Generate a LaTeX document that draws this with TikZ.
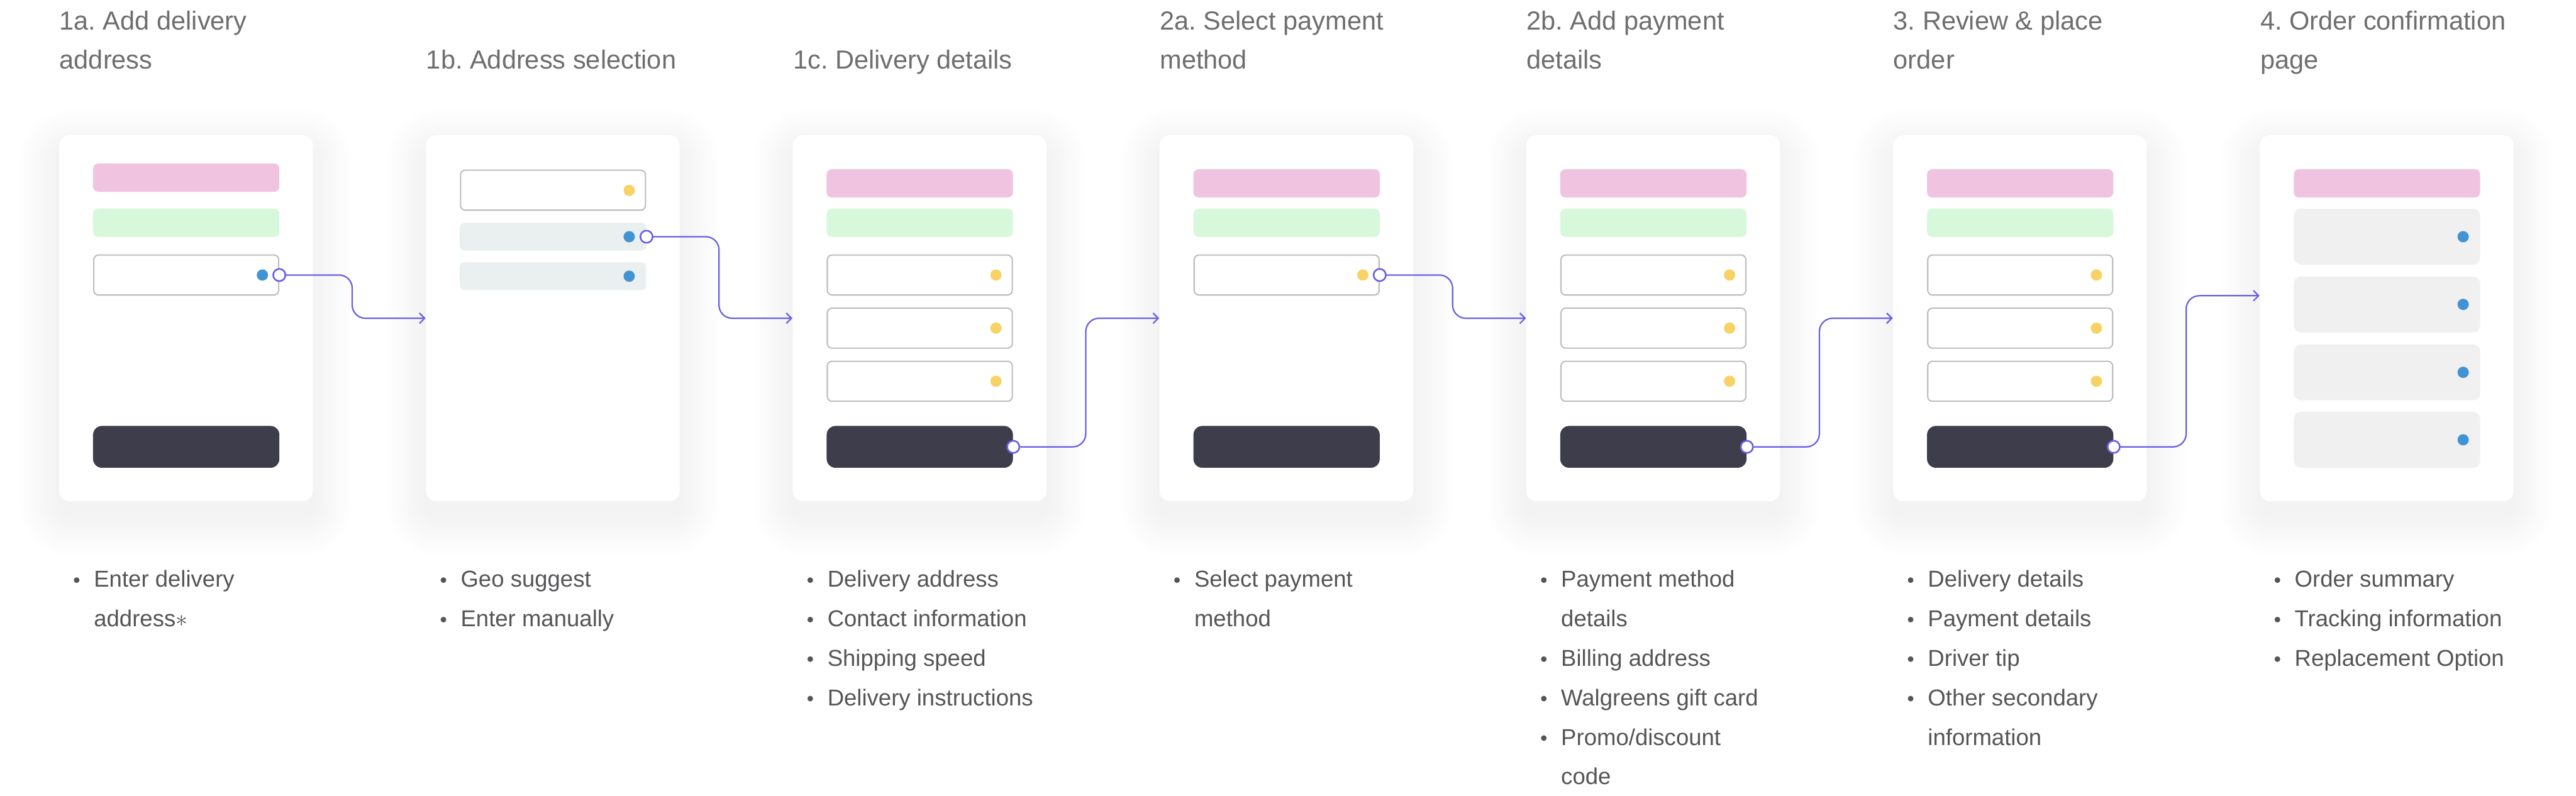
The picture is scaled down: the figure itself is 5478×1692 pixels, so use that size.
\documentclass[tikz,border=0pt]{standalone}
\usepackage{fontspec}
\setmainfont{Liberation Sans}
\usetikzlibrary{arrows.meta}
\definecolor{pinkc}{HTML}{F0C3E0}
\definecolor{greenc}{HTML}{D7F8DB}
\definecolor{fieldgray}{HTML}{BEBEBE}
\definecolor{ydotc}{HTML}{F9D266}
\definecolor{bdotc}{HTML}{4293D3}
\definecolor{btnc}{HTML}{3E3D4B}
\definecolor{rowblue}{HTML}{EAF0EF}
\definecolor{rowgray}{HTML}{F0F0F0}
\definecolor{purp}{HTML}{6A5FE6}
\definecolor{titlec}{HTML}{6E6E70}
\definecolor{textc}{HTML}{555558}
\frenchspacing

\tikzset{
  card/.style={rectangle, rounded corners=0.22cm, fill=white, minimum width=5.39cm, minimum height=7.78cm, inner sep=0pt},
  pinkbar/.style={rectangle, rounded corners=0.11cm, fill=pinkc, minimum width=3.96cm, minimum height=0.60cm, inner sep=0pt},
  greenbar/.style={pinkbar, fill=greenc},
  field/.style={rectangle, rounded corners=0.1cm, draw=fieldgray, line width=0.028cm, fill=white, minimum width=3.93cm, minimum height=0.85cm, inner sep=0pt},
  btn/.style={rectangle, rounded corners=0.19cm, fill=btnc, minimum width=3.96cm, minimum height=0.89cm, inner sep=0pt},
  rowb/.style={rectangle, rounded corners=0.1cm, fill=rowblue, minimum width=3.96cm, minimum height=0.59cm, inner sep=0pt},
  bigrow/.style={rectangle, rounded corners=0.15cm, fill=rowgray, minimum width=3.96cm, minimum height=1.19cm, inner sep=0pt},
  ydot/.style={circle, fill=ydotc, minimum size=0.24cm, inner sep=0pt},
  bdot/.style={circle, fill=bdotc, minimum size=0.24cm, inner sep=0pt},
  port/.style={circle, draw=purp, fill=white, line width=0.035cm, minimum size=0.26cm, inner sep=0pt},
  conn/.style={draw=purp, line width=0.03cm, rounded corners=0.28cm, -{Straight Barb[length=0.11cm, width=0.22cm]}},
  ttl/.style={anchor=base west, inner sep=0pt, text=titlec, font=\fontsize{15.8pt}{19pt}\selectfont},
  btxt/.style={anchor=base west, inner sep=0pt, text=textc, font=\fontsize{13.9pt}{17pt}\selectfont},
  bull/.style={circle, fill=textc, minimum size=0.12cm, inner sep=0pt},
}

\newcommand{\cardshadow}[1]{%
  \foreach \sh in {1,...,12}{%
    \pgfmathsetmacro{\rr}{0.22+\sh*0.07}%
    \fill[black, opacity=0.004, rounded corners=\rr cm] ({#1-\sh*7},{288-\sh*7+30}) rectangle ({#1+539+\sh*7},{1066+\sh*7+30});
  }}
\newcommand{\tline}[4]{\node[ttl] (#1) at (#2,#3) {#4};}
\newcommand{\bline}[4]{\node[btxt] (#1) at (#2,#3) {#4};}
\newcommand{\bmark}[3]{\node[bull] (#1) at (#2,#3) {};}

\begin{document}
\begin{tikzpicture}[x=0.01cm, y=-0.01cm]
\useasboundingbox (0,0) rectangle (5478,1692);
\fill[white] (0,0) rectangle (5478,1692);

% shadows
\cardshadow{126}
\cardshadow{906}
\cardshadow{1686}
\cardshadow{2466}
\cardshadow{3246}
\cardshadow{4026}
\cardshadow{4806}

% cards
\node[card] (c1) at (395.5,677) {};
\node[card] (c2) at (1175.5,677) {};
\node[card] (c3) at (1955.5,677) {};
\node[card] (c4) at (2735.5,677) {};
\node[card] (c5) at (3515.5,677) {};
\node[card] (c6) at (4295.5,677) {};
\node[card] (c7) at (5075.5,677) {};

% card 1
\node[pinkbar] (c1p) at (396,378) {};
\node[greenbar] (c1g) at (396,474) {};
\node[field] (c1f1) at (396,585) {};
\node[bdot] (c1d1) at (558,585) {};
\node[btn] (c1b) at (396,950.5) {};
\node[port] (c1o) at (c1f1.east) {};

% card 2
\node[field] (c2f1) at (1176,404.5) {};
\node[ydot] (c2d1) at (1338,405) {};
\node[rowb] (c2r1) at (1176,503.5) {};
\node[bdot] (c2d2) at (1338,503.5) {};
\node[rowb] (c2r2) at (1176,587.5) {};
\node[bdot] (c2d3) at (1338,587.5) {};
\node[port] (c2o) at (c2r1.east) {};

% card 3
\node[pinkbar] (c3p) at (1956,390) {};
\node[greenbar] (c3g) at (1956,474) {};
\node[field] (c3f1) at (1956,585) {};
\node[ydot] (c3d1) at (2118,585) {};
\node[field] (c3f2) at (1956,698) {};
\node[ydot] (c3d2) at (2118,698) {};
\node[field] (c3f3) at (1956,811) {};
\node[ydot] (c3d3) at (2118,811) {};
\node[btn] (c3b) at (1956,950.5) {};
\node[port] (c3o) at (c3b.east) {};

% card 4
\node[pinkbar] (c4p) at (2736,390) {};
\node[greenbar] (c4g) at (2736,474) {};
\node[field] (c4f1) at (2736,585) {};
\node[ydot] (c4d1) at (2898,585) {};
\node[btn] (c4b) at (2736,950.5) {};
\node[port] (c4o) at (c4f1.east) {};

% card 5
\node[pinkbar] (c5p) at (3516,390) {};
\node[greenbar] (c5g) at (3516,474) {};
\node[field] (c5f1) at (3516,585) {};
\node[ydot] (c5d1) at (3678,585) {};
\node[field] (c5f2) at (3516,698) {};
\node[ydot] (c5d2) at (3678,698) {};
\node[field] (c5f3) at (3516,811) {};
\node[ydot] (c5d3) at (3678,811) {};
\node[btn] (c5b) at (3516,950.5) {};
\node[port] (c5o) at (c5b.east) {};

% card 6
\node[pinkbar] (c6p) at (4296,390) {};
\node[greenbar] (c6g) at (4296,474) {};
\node[field] (c6f1) at (4296,585) {};
\node[ydot] (c6d1) at (4458,585) {};
\node[field] (c6f2) at (4296,698) {};
\node[ydot] (c6d2) at (4458,698) {};
\node[field] (c6f3) at (4296,811) {};
\node[ydot] (c6d3) at (4458,811) {};
\node[btn] (c6b) at (4296,950.5) {};
\node[port] (c6o) at (c6b.east) {};

% card 7
\node[pinkbar] (c7p) at (5076,390) {};
\node[bigrow] (c7r1) at (5076,503.5) {};
\node[bdot] (c7d1) at (5238,503.5) {};
\node[bigrow] (c7r2) at (5076,647.5) {};
\node[bdot] (c7d2) at (5238,647.5) {};
\node[bigrow] (c7r3) at (5076,792) {};
\node[bdot] (c7d3) at (5238,792) {};
\node[bigrow] (c7r4) at (5076,935.5) {};
\node[bdot] (c7d4) at (5238,935.5) {};

% connectors
\coordinate (k1) at (749,677);
\coordinate (k2) at (1529,677);
\coordinate (k3) at (2309,677);
\coordinate (k4) at (3089,677);
\coordinate (k5) at (3869,677);
\coordinate (k6) at (4649,629);
\draw[conn] (c1o.east) -| (k1) -- (k1 -| c2.west);
\draw[conn] (c2o.east) -| (k2) -- (k2 -| c3.west);
\draw[conn] (c3o.east) -| (k3) -- (k3 -| c4.west);
\draw[conn] (c4o.east) -| (k4) -- (k4 -| c5.west);
\draw[conn] (c5o.east) -| (k5) -- (k5 -| c6.west);
\draw[conn] (c6o.east) -| (k6) -- (k6 -| c7.west);

% titles
\tline{t1a}{126}{63}{1a. Add delivery}
\tline{t1b}{126}{146}{address}
\tline{t2a}{906}{146}{1b. Address selection}
\tline{t3a}{1686}{146}{1c. Delivery details}
\tline{t4a}{2466}{63}{2a. Select payment}
\tline{t4b}{2466}{146}{method}
\tline{t5a}{3246}{63}{2b. Add payment}
\tline{t5b}{3246}{146}{details}
\tline{t6a}{4026}{63}{3. Review \& place}
\tline{t6b}{4026}{146}{order}
\tline{t7a}{4806}{63}{4. Order confirmation}
\tline{t7b}{4806}{146}{page}

% bullet lists
% card 1
\bmark{m1a}{163}{1234}
\bline{l1a}{199}{1249}{Enter delivery}
\bline{l1b}{199}{1333}{address$\ast$}
% card 2
\bmark{m2a}{943}{1234}
\bline{l2a}{979}{1249}{Geo suggest}
\bmark{m2b}{943}{1318}
\bline{l2b}{979}{1333}{Enter manually}
% card 3
\bmark{m3a}{1723}{1234}
\bline{l3a}{1759}{1249}{Delivery address}
\bmark{m3b}{1723}{1318}
\bline{l3b}{1759}{1333}{Contact information}
\bmark{m3c}{1723}{1402}
\bline{l3c}{1759}{1417}{Shipping speed}
\bmark{m3d}{1723}{1486}
\bline{l3d}{1759}{1501}{Delivery instructions}
% card 4
\bmark{m4a}{2503}{1234}
\bline{l4a}{2539}{1249}{Select payment}
\bline{l4b}{2539}{1333}{method}
% card 5
\bmark{m5a}{3283}{1234}
\bline{l5a}{3319}{1249}{Payment method}
\bline{l5b}{3319}{1333}{details}
\bmark{m5c}{3283}{1402}
\bline{l5c}{3319}{1417}{Billing address}
\bmark{m5d}{3283}{1486}
\bline{l5d}{3319}{1501}{Walgreens gift card}
\bmark{m5e}{3283}{1570}
\bline{l5e}{3319}{1585}{Promo/discount}
\bline{l5f}{3319}{1669}{code}
% card 6
\bmark{m6a}{4063}{1234}
\bline{l6a}{4099}{1249}{Delivery details}
\bmark{m6b}{4063}{1318}
\bline{l6b}{4099}{1333}{Payment details}
\bmark{m6c}{4063}{1402}
\bline{l6c}{4099}{1417}{Driver tip}
\bmark{m6d}{4063}{1486}
\bline{l6d}{4099}{1501}{Other secondary}
\bline{l6e}{4099}{1585}{information}
% card 7
\bmark{m7a}{4843}{1234}
\bline{l7a}{4879}{1249}{Order summary}
\bmark{m7b}{4843}{1318}
\bline{l7b}{4879}{1333}{Tracking information}
\bmark{m7c}{4843}{1402}
\bline{l7c}{4879}{1417}{Replacement Option}
\end{tikzpicture}
\end{document}
